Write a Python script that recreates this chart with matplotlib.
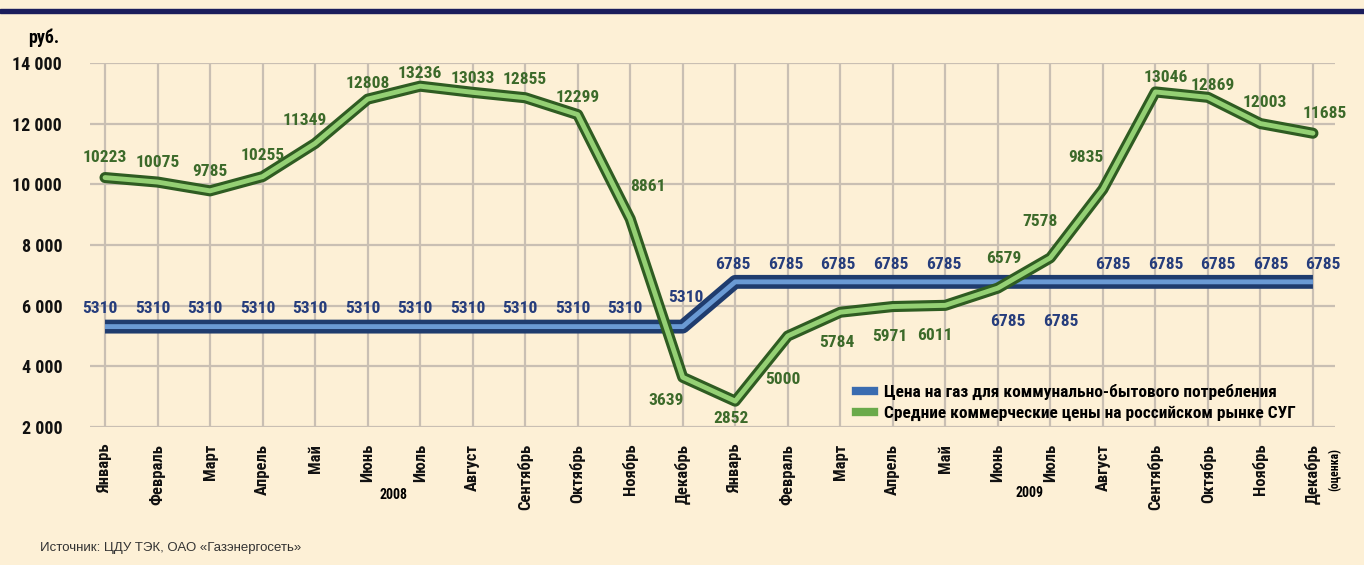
import matplotlib.pyplot as plt
from matplotlib.lines import Line2D
from matplotlib.patches import Rectangle

months = ['Январь', 'Февраль', 'Март', 'Апрель', 'Май', 'Июнь', 'Июль', 'Август',
          'Сентябрь', 'Октябрь', 'Ноябрь', 'Декабрь',
          'Январь', 'Февраль', 'Март', 'Апрель', 'Май', 'Июнь', 'Июль', 'Август',
          'Сентябрь', 'Октябрь', 'Ноябрь', 'Декабрь']
gas_price = [5310] * 12 + [6785] * 12
lpg_price = [10223, 10075, 9785, 10255, 11349, 12808, 13236, 13033, 12855, 12299, 8861, 3639,
             2852, 5000, 5784, 5971, 6011, 6579, 7578, 9835, 13046, 12869, 12003, 11685]
yticks = [2000, 4000, 6000, 8000, 10000, 12000, 14000]
ytick_labels = ['2 000', '4 000', '6 000', '8 000', '10 000', '12 000', '14 000']

# label offsets in pixels (dx, dy), placement only
lpg_off = [(0, 20), (0, 20), (0, 19), (0, 21), (-10, 23), (0, 16), (0, 13), (0, 14), (0, 18), (0, 17),
           (18, 32), (-17, -23), (-4, -17), (-5, -44), (-3, -30), (-3, -30), (-10, -30),
           (6, 30), (-10, 36), (-17, 32), (10, 14), (5, 12), (4, 21), (12, 20)]
gas_off = [(-5, 18)] * 11 + [(3, 29)] + [(-2, 17)] * 5 + [(10, -40), (10, -40)] + [(10, 17)] * 5

bg = '#fdf0d6'
fig = plt.figure(figsize=(13.64, 5.65), dpi=100, facecolor=bg)
ax = fig.add_axes([90 / 1364, 138 / 565, 1245 / 1364, 364 / 565])
ax.set_facecolor(bg)

narrow = ['Roboto Condensed', 'Roboto', 'DejaVu Sans']
x = list(range(len(months)))

ax.plot(x, gas_price, color='#1f3c6e', lw=10, solid_capstyle='butt', zorder=3)
ax.plot(x, gas_price, color='#6a9ad4', lw=3.5, solid_capstyle='butt', zorder=3)
ax.plot(x, lpg_price, color='#2f5c22', lw=8, solid_capstyle='round', zorder=4)
ax.plot(x, lpg_price, color='#94d074', lw=3.5, solid_capstyle='round', zorder=4)

for i, v in enumerate(lpg_price):
    ax.annotate(str(v), (i, v), xytext=lpg_off[i], textcoords='offset pixels',
                ha='center', va='center', color='#3c6a2a', fontsize=12.5,
                fontweight='bold', family=narrow, zorder=6)
for i, v in enumerate(gas_price):
    ax.annotate(str(v), (i, v), xytext=gas_off[i], textcoords='offset pixels',
                ha='center', va='center', color='#263d7c', fontsize=12.5,
                fontweight='bold', family=narrow, zorder=6)

ax.set_xlim(-0.286, 23.42)
ax.set_ylim(2000, 14000)
ax.set_xticks(x)
ax.set_xticklabels(months, rotation=90, fontsize=12, fontweight='bold', family=narrow,
                   va='top', color='#111111')
ax.set_yticks(yticks)
ax.set_yticklabels(ytick_labels, fontsize=13, fontweight='bold', family=narrow, color='#111111')
ax.tick_params(length=0)
ax.tick_params(axis='x', pad=12)
ax.tick_params(axis='y', pad=20)
ax.grid(True, color='#c9bfb3', lw=1.6, zorder=0)
for s in ax.spines.values():
    s.set_visible(False)

ax.text(5.5, -0.187, '2008', transform=ax.get_xaxis_transform(), ha='center', va='center',
        fontsize=10, fontweight='bold', family=narrow)
ax.text(17.6, -0.181, '2009', transform=ax.get_xaxis_transform(), ha='center', va='center',
        fontsize=10, fontweight='bold', family=narrow)
ax.text(23.42, -0.118, '(оценка)', transform=ax.get_xaxis_transform(), ha='center', va='center',
        rotation=90, fontsize=8.5, fontweight='bold', family=narrow)

handles = [Line2D([], [], color='#3a6cb0', lw=6),
           Line2D([], [], color='#6aaa4a', lw=6)]
ax.legend(handles, ['Цена на газ для коммунально-бытового потребления',
                    'Средние коммерческие цены на российском рынке СУГ'],
          loc='upper left', bbox_to_anchor=(0.603, 0.162), frameon=False,
          handlelength=1.0, handletextpad=0.6, labelspacing=0.35,
          prop={'family': narrow, 'weight': 'bold', 'size': 12.5})

fig.text(28 / 1364, 1 - 38 / 565, 'руб.', ha='left', va='center', fontsize=13,
         fontweight='bold', family=narrow)
fig.text(40 / 1364, 1 - 548 / 565, 'Источник: ЦДУ ТЭК, ОАО «Газэнергосеть»', ha='left',
         va='center', fontsize=9.5, family=['Liberation Sans', 'DejaVu Sans'], color='#333333')
fig.patches.append(Rectangle((0, 1 - 13 / 565), 1, 4 / 565, transform=fig.transFigure,
                             color='#1b1d5c', zorder=10))

fig.savefig('out.png', dpi=100, facecolor=bg)
